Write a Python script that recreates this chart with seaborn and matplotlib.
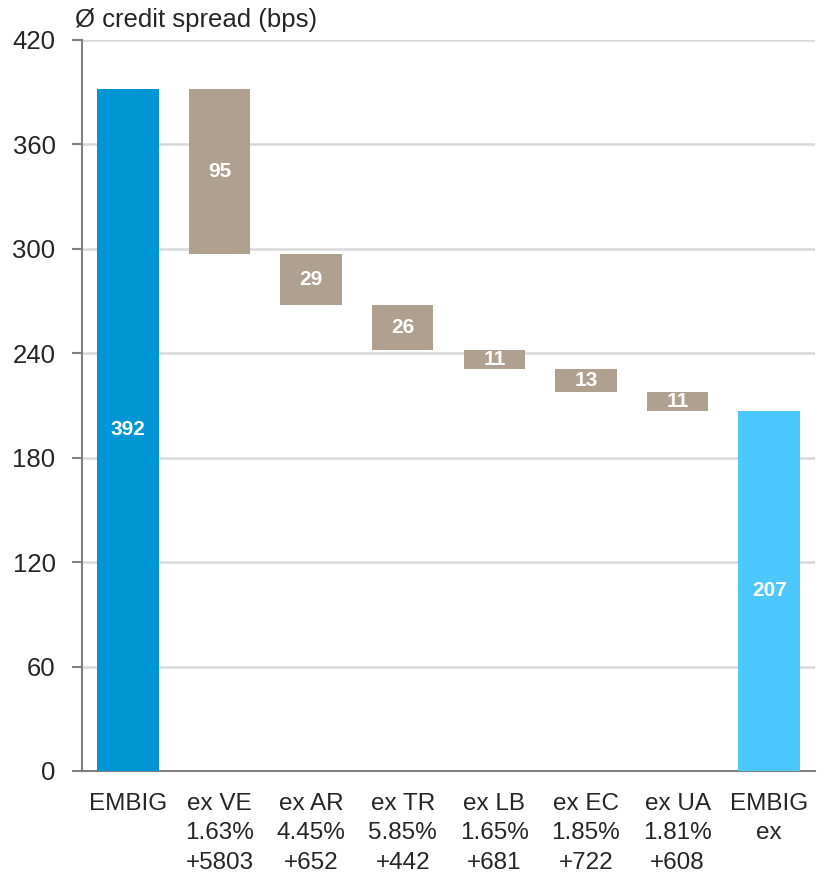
import matplotlib
matplotlib.use("Agg")
import matplotlib.pyplot as plt
import seaborn as sns
import numpy as np
import pandas as pd

categories = ["EMBIG", "ex VE\n1.63%\n+5803", "ex AR\n4.45%\n+652", "ex TR\n5.85%\n+442",
              "ex LB\n1.65%\n+681", "ex EC\n1.85%\n+722", "ex UA\n1.81%\n+608", "EMBIG\nex"]
start_value = 392
changes = [95, 29, 26, 11, 13, 11]
end_value = 207
labels = ["392", "95", "29", "26", "11", "13", "11", "207"]

# Build waterfall heights/bottoms from the values
heights = [start_value]
bottoms = [0]
level = start_value
for c in changes:
    level -= c
    heights.append(c)
    bottoms.append(level)
heights.append(end_value)
bottoms.append(0)

colors = ["#0096D6"] + ["#B0A090"] * len(changes) + ["#4DC8FF"]

df = pd.DataFrame({"cat": categories, "h": heights, "b": bottoms})

sns.set_style("white")
plt.rcParams["font.family"] = ["Liberation Sans", "DejaVu Sans"]

fig = plt.figure(figsize=(8.3, 8.77), dpi=100)
ax = fig.add_axes([82/830, 1 - 771/877, (815 - 82)/830, (771 - 40)/877])

sns.barplot(data=df, x="cat", y="h", bottom=df["b"].values, color="#B0A090",
            width=0.67, ax=ax, zorder=3, saturation=1)
for p, col in zip(ax.patches, colors):
    p.set_facecolor(col)
    p.set_edgecolor("none")

for i, (h, b, lab) in enumerate(zip(heights, bottoms, labels)):
    ax.text(i, b + h / 2, lab, ha="center", va="center", color="white",
            fontsize=15, fontweight="bold", zorder=4)

ax.set_ylim(0, 420)
ax.set_xlim(-0.5, 7.5)
ax.set_yticks(np.arange(0, 421, 60))
ax.yaxis.grid(True, color="#D9D9D9", linewidth=1.8, zorder=0)
ax.set_axisbelow(True)
for s in ["top", "right"]:
    ax.spines[s].set_visible(False)
for s in ["left", "bottom"]:
    ax.spines[s].set_color("#808080")
    ax.spines[s].set_linewidth(1.5)

ax.set_xticks(np.arange(-0.5, 8, 1), minor=True)
ax.tick_params(axis="x", which="minor", length=7, width=1.5, color="#808080", direction="out")
ax.tick_params(axis="x", which="major", length=0, labelsize=17.5, pad=16)
ax.tick_params(axis="y", which="major", length=7, width=1.5, color="#808080",
               labelsize=18.5, pad=12, left=True)
for t in ax.get_xticklabels():
    t.set_linespacing(1.42)
    t.set_ha("center")
ax.set_xlabel("")
ax.set_ylabel("")

fig.text(75/830, 1 - 20/877, "Ø credit spread (bps)", fontsize=18.5, va="center", ha="left")

fig.savefig("out.png", dpi=100)
